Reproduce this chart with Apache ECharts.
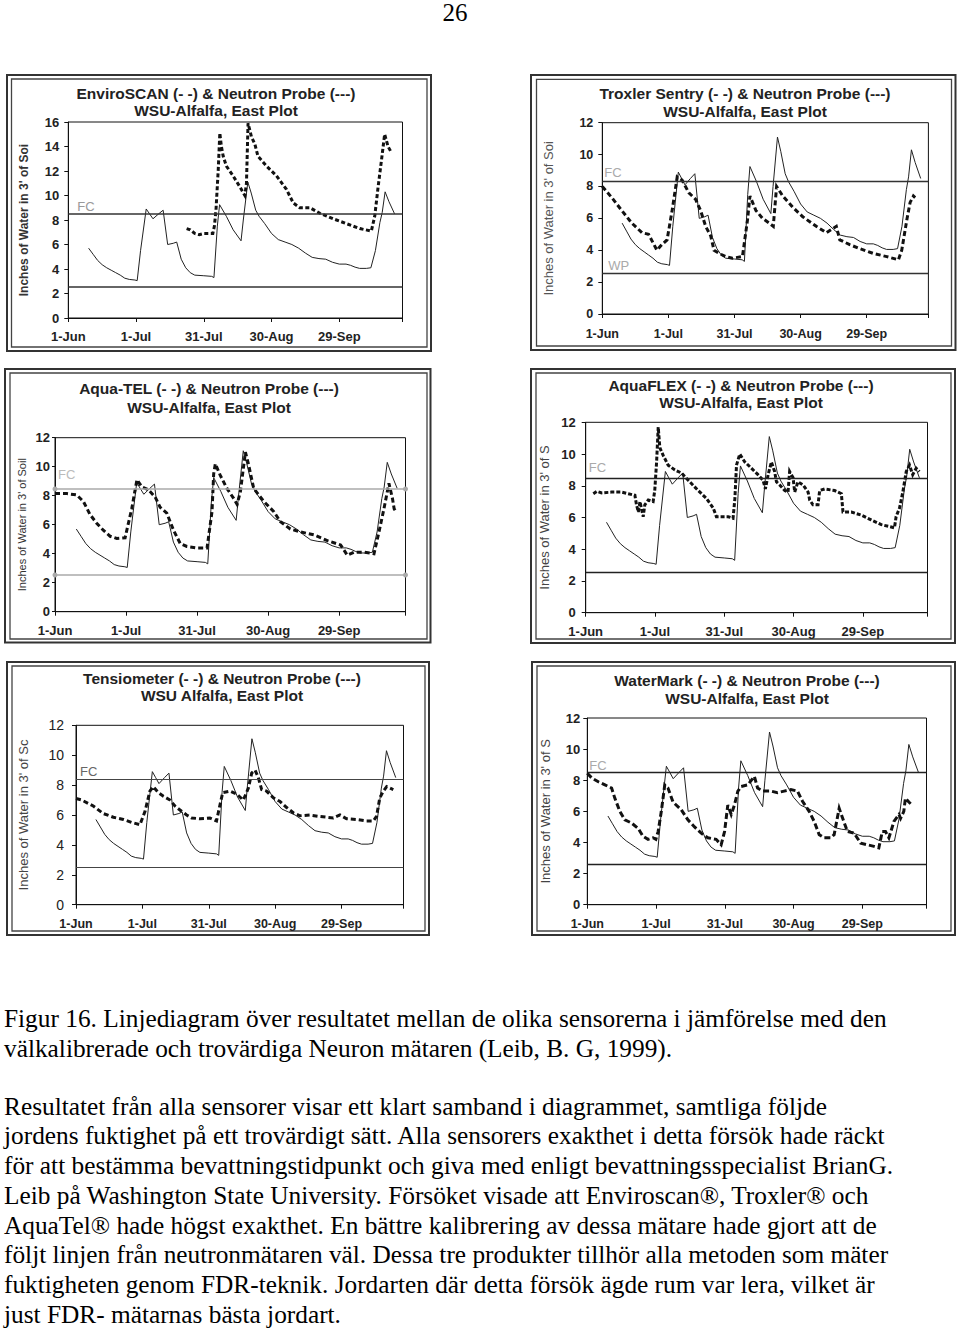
<!DOCTYPE html>
<html><head><meta charset="utf-8">
<script src="https://cdn.jsdelivr.net/npm/echarts@6/dist/echarts.min.js"></script>
<style>
html,body{margin:0;padding:0;background:#fff;}
body{width:960px;height:1330px;position:relative;overflow:hidden;}
#chart{position:absolute;left:0;top:0;width:960px;height:960px;}
.serif{position:absolute;font-family:'Liberation Serif','Times New Roman',serif;color:#000;white-space:nowrap;}
</style></head><body>
<div id="chart"></div>
<div id="pageno" class="serif">26</div>
<div id="caption"></div>
<script>
// ---------- DATA ----------
const tickLabels = ['1-Jun', '1-Jul', '31-Jul', '30-Aug', '29-Sep'];
const XMAX = 148; // days after 1-Jun

const titles = [
  'EnviroSCAN (- -) & Neutron Probe (---)\nWSU-Alfalfa, East Plot',
  'Troxler Sentry (- -) & Neutron Probe (---)\nWSU-Alfalfa, East Plot',
  'Aqua-TEL (- -) & Neutron Probe (---)\nWSU-Alfalfa, East Plot',
  'AquaFLEX (- -) & Neutron Probe (---)\nWSU-Alfalfa, East Plot',
  'Tensiometer (- -) & Neutron Probe (---)\nWSU Alfalfa, East Plot',
  'WaterMark (- -) & Neutron Probe (---)\nWSU-Alfalfa, East Plot'
];
const yNames = [
  "Inches of Water in 3' of Soi",
  "Inches of Water in 3' of Soi",
  "Inches of Water in 3' of Soil",
  "Inches of Water in 3' of S",
  "Inches of Water in 3' of Sc",
  "Inches of Water in 3' of S"
];
const yMaxes = [16, 12, 12, 12, 12, 12];
const fcLevels = [8.5, 8.35, 8.46, 8.47, 8.37, 8.52];
const lowLevels = [2.54, 2.57, 2.53, 2.58, 2.5, 2.57];
const lowLabels = ['', 'WP', '', '', '', ''];

// Neutron probe (solid line), [day after 1-Jun, inches]
const neutron = [
  [9,5.7],[11,5.2],[13,4.7],[15,4.35],[17,4.1],[19,3.9],[21,3.7],[23,3.5],[25,3.25],[27,3.15],[29.5,3.1],[30.5,3.05],
  [32,5.5],[34.5,8.9],[36,8.5],[37.5,8.1],[40,8.5],[42,8.8],[44,6.0],[46.5,6.1],[48,6.2],[50,4.8],[52,4.1],[54,3.7],
  [56,3.5],[60,3.45],[63.5,3.4],[64.5,3.3],[66,7.5],[67,9.25],[70,8.3],[73,7.2],[76.5,6.3],[77.5,8.0],[79.5,11.1],
  [81,10.2],[83,8.8],[84.5,8.3],[87,7.7],[90,6.9],[93,6.4],[96,6.2],[99,6.0],[102,5.7],[105,5.3],[108,4.95],[111,4.85],
  [114,4.8],[117,4.55],[120,4.4],[123,4.4],[125,4.3],[127,4.15],[129,4.05],[132,4.05],[134,4.1],[136,5.5],[138,7.8],
  [139,8.6],[140.3,10.3],[142,9.5],[144.5,8.5]
];

const enviroscan = [
  [52.4,7.3],[54,7.2],[56,6.9],[58,6.8],[60,6.9],[64,6.9],[64.7,7.5],[65.4,8.8],[66.4,12.1],[67.1,15.1],[67.8,14.0],
  [68.6,13.2],[70,12.4],[73,11.6],[76,10.7],[78.2,10.0],[78.9,11.0],[79.6,15.9],[81.1,14.8],[82.6,14.2],[84,13.2],
  [87.8,12.4],[92.2,11.6],[96.6,10.5],[99.6,9.4],[102.5,9.0],[107,9.0],[111.4,8.55],[117.3,8.1],[123.2,7.7],[129.1,7.3],
  [134.2,7.1],[135.7,8.3],[137.2,10.7],[138.7,12.9],[140.1,15.0],[141.6,14.0],[143.1,13.5]
];
const troxler = [
  [0,8.0],[4.3,7.3],[8.8,6.5],[13.4,5.7],[18,5.1],[21,5.0],[24.8,4.0],[27,4.35],[29.4,4.65],[31.7,6.5],[34,8.6],
  [36.2,8.4],[39.3,7.6],[42.3,7.2],[44.6,6.5],[46.9,5.5],[49.2,4.9],[50.7,4.0],[53,3.8],[56,3.6],[59.1,3.5],[63.6,3.6],
  [65.9,5.9],[67,7.4],[69.7,6.5],[72.7,6.0],[75.8,5.7],[77.6,5.5],[79.1,8.0],[81.9,7.4],[86.4,6.7],[91,6.1],[97.1,5.5],
  [101.7,5.1],[106.2,5.5],[107.8,4.65],[112.3,4.35],[116.9,4.1],[123,3.8],[129.1,3.6],[134.4,3.4],[135.9,4.0],[138.2,5.9],
  [139.7,7.0],[141.2,7.4],[142,7.3]
];
const aquatel = [
  [0,8.15],[4.9,8.15],[9.2,8.05],[12.0,7.6],[14.8,6.7],[17.6,6.1],[20.5,5.6],[23.3,5.2],[26.1,5.05],[29.6,5.1],[32.4,7.1],
  [34.6,9.1],[36.7,8.6],[39.5,8.4],[42.3,7.9],[44.4,7.2],[47.2,6.8],[50.1,5.6],[52.9,4.7],[55.7,4.5],[59.9,4.4],[64.2,4.4],
  [66.3,6.9],[67.0,9.5],[67.7,10.2],[69.8,9.4],[72.6,8.5],[75.5,7.8],[76.9,7.4],[78.3,8.3],[80.4,11.0],[81.8,10.1],
  [83.9,8.5],[88.2,7.6],[92.4,6.9],[95.2,6.2],[99.4,5.7],[103.7,5.5],[109.3,5.3],[115.0,4.9],[120.6,4.6],[123.4,3.9],
  [126.2,4.1],[130.5,4.1],[134.7,4.0],[136.8,5.5],[138.9,7.1],[141.0,8.85],[142.5,7.8],[143.2,7.1],[143.9,6.9]
];
const aquaflex = [
  [3.3,7.5],[4.8,7.65],[6.9,7.55],[11.2,7.6],[15.6,7.6],[18.4,7.5],[21.3,7.4],[22.0,6.8],[22.8,6.35],[23.5,7.0],[24.9,6.05],
  [25.6,6.8],[27.1,7.1],[29.2,7.0],[29.9,7.7],[30.7,9.5],[31.4,11.7],[32.1,10.4],[33.6,9.9],[35.7,9.3],[38.6,9.0],[41.5,8.8],
  [44.4,8.35],[48.7,7.7],[52.3,7.2],[55.2,6.6],[56.6,6.05],[58.8,6.05],[61.7,6.05],[63.8,5.95],[64.6,7.2],[65.3,9.3],
  [66.7,10.0],[68.9,9.5],[71.8,9.1],[74.6,8.7],[76.8,8.35],[77.8,7.8],[79.0,8.7],[80.4,9.5],[81.8,8.9],[82.6,8.25],
  [84.0,8.05],[86.2,7.7],[87.6,7.6],[88.3,8.9],[89.8,8.5],[90.5,7.6],[91.9,8.25],[94.1,8.05],[96.3,7.6],[97.0,7.1],
  [98.4,6.8],[100.6,6.8],[101.3,7.7],[103.5,7.8],[107.8,7.7],[110.7,7.5],[111.4,6.35],[115.0,6.35],[119.3,6.15],
  [123.6,5.85],[128.0,5.55],[132.3,5.4],[133.7,5.35],[134.4,6.05],[135.9,6.6],[137.3,7.6],[138.8,8.9],[140.2,9.3],
  [141.6,8.7],[143.1,9.1],[144.5,8.9]
];
const tensiometer = [
  [0,7.1],[2.6,7.0],[7.8,6.6],[12.3,6.1],[16.9,5.85],[21.4,5.7],[25.2,5.5],[28.9,5.35],[31.2,6.25],[33.4,7.6],[34.9,7.9],
  [37.2,7.5],[39.5,7.25],[42.5,7.0],[44.7,6.6],[47.7,6.25],[50,6.0],[52.3,5.8],[56,5.75],[60.5,5.8],[63.5,5.6],[65.1,6.7],
  [66.3,7.5],[69.6,7.6],[72.6,7.4],[75.6,7.0],[77.9,7.8],[79.4,8.8],[80.9,9.0],[82.4,8.5],[83.9,7.7],[86.1,7.6],[89.2,7.15],
  [92.2,6.9],[95.2,6.5],[98.2,6.15],[101.2,5.95],[105.7,6.0],[110.2,5.9],[116.3,5.8],[119.3,6.0],[122.3,5.75],[126.8,5.7],
  [131.3,5.6],[134.3,5.6],[135.8,5.9],[137.3,7.15],[138.9,7.6],[140.4,7.9],[141.9,7.8],[143.4,7.7]
];
const watermark = [
  [0,8.45],[1.9,8.15],[4.8,7.9],[7.7,7.7],[10.6,7.5],[12.0,6.85],[14.2,6.0],[16.4,5.45],[19.3,5.25],[22.2,4.9],[24.3,4.4],
  [26.5,4.2],[28.7,4.3],[29.9,4.2],[30.9,4.7],[32.3,6.0],[33.8,7.7],[35.2,7.5],[37.4,6.6],[41.0,6.1],[43.9,5.45],[46.8,5.0],
  [49.7,4.6],[52.6,4.3],[56.2,4.2],[58.4,3.85],[59.9,4.7],[61.3,6.4],[62.8,5.8],[64.2,6.4],[65.7,7.3],[67.1,7.6],[70,7.7],
  [72.9,8.25],[74.3,7.5],[76.5,7.3],[80.1,7.3],[83.0,7.2],[85.9,7.3],[88.8,7.4],[91.7,7.3],[93.9,6.65],[96.8,6.0],[99,5.35],
  [101.2,4.5],[103.3,4.3],[106.2,4.3],[107.7,4.5],[109.9,6.2],[111.3,5.6],[113.5,4.7],[116.4,4.6],[119.3,3.95],[122.2,3.85],
  [125.1,3.75],[127.2,3.65],[128.7,4.7],[130.1,4.7],[131.6,4.3],[133.8,5.35],[136,5.8],[136.7,5.55],[138.1,6.0],[138.8,6.85],
  [140.3,6.6],[141.7,6.4]
];
const sensors = [enviroscan, troxler, aquatel, aquaflex, tensiometer, watermark];

const captionLines = [
  'Figur 16. Linjediagram över resultatet mellan de olika sensorerna i jämförelse med den',
  'välkalibrerade och trovärdiga Neuron mätaren (Leib, B. G, 1999).',
  'Resultatet från alla sensorer visar ett klart samband i diagrammet, samtliga följde',
  'jordens fuktighet på ett trovärdigt sätt. Alla sensorers exakthet i detta försök hade räckt',
  'för att bestämma bevattningstidpunkt och giva med enligt bevattningsspecialist BrianG.',
  'Leib på Washington State University. Försöket visade att Enviroscan®, Troxler® och',
  'AquaTel® hade högst exakthet. En bättre kalibrering av dessa mätare hade gjort att de',
  'följt linjen från neutronmätaren väl. Dessa tre produkter tillhör alla metoden som mäter',
  'fuktigheten genom FDR-teknik. Jordarten där detta försök ägde rum var lera, vilket är',
  'just FDR- mätarnas bästa jordart.'
];

// ---------- LAYOUT / STYLE ----------
const SANS = '"Liberation Sans", Arial, sans-serif';
const layout = [
  {fo:[7,75,431,351], fi:[11.5,79,427,347], g:[68.3,122,402.5,318], tx:216, ty:93.3, tlh:17.5,
   nameGap:38, nameFont:12, nameWeight:'bold', nameColor:'#333',
   yFont:13, yWeight:'bold', yMargin:9, yTick:4, xFont:13, xMargin:12,
   refColor:'#333', refW:1.6, refSym:false, fcColor:'#999', fcDist:[9,1], lowDist:[6,1], dash:[4,2.5]},
  {fo:[531,75,955.5,350], fi:[536.5,79.3,951.5,346], g:[602.3,122.7,928.4,314], tx:745, ty:93.3, tlh:18,
   nameGap:47, nameFont:13, nameWeight:'normal', nameColor:'#555',
   yFont:12.5, yWeight:'bold', yMargin:9, yTick:4, xFont:12.5, xMargin:13,
   refColor:'#333', refW:1.4, refSym:false, fcColor:'#aaa', fcDist:[2,2], lowDist:[6,1], dash:[5,3]},
  {fo:[5,369,430.5,642.5], fi:[10,373,427,639], g:[55,437.7,405.5,611.7], tx:209, ty:388.3, tlh:19,
   nameGap:28, nameFont:11, nameWeight:'normal', nameColor:'#333',
   yFont:13, yWeight:'bold', yMargin:5, yTick:3, xFont:13, xMargin:12,
   refColor:'#aaa', refW:1.5, refSym:true, fcColor:'#bbb', fcDist:[3,8], lowDist:[3,1], dash:[5,3]},
  {fo:[531,369,955,643], fi:[536,373,951,639], g:[585.7,422.3,927.5,612.7], tx:741, ty:385.7, tlh:16.5,
   nameGap:35, nameFont:13, nameWeight:'normal', nameColor:'#444',
   yFont:13, yWeight:'bold', yMargin:10, yTick:4, xFont:13, xMargin:12,
   refColor:'#222', refW:1.4, refSym:false, fcColor:'#aaa', fcDist:[3,4], lowDist:[3,1], dash:[4,2]},
  {fo:[7,662,429,935], fi:[12,666,425,931], g:[76,725.3,403.5,904.7], tx:222, ty:678.7, tlh:16.5,
   nameGap:46, nameFont:13, nameWeight:'normal', nameColor:'#444',
   yFont:14, yWeight:'normal', yMargin:12, yTick:4, xFont:12.5, xMargin:13,
   refColor:'#444', refW:1.2, refSym:false, fcColor:'#666', fcDist:[4,2], lowDist:[3,1], dash:[5,3]},
  {fo:[532,662,955,935], fi:[537,666,951,931], g:[587.3,718,926.5,904.7], tx:747, ty:680, tlh:18,
   nameGap:35, nameFont:13, nameWeight:'normal', nameColor:'#444',
   yFont:13, yWeight:'bold', yMargin:7, yTick:4, xFont:12.5, xMargin:13,
   refColor:'#222', refW:1.4, refSym:false, fcColor:'#aaa', fcDist:[2,0], lowDist:[3,1], dash:[6,3]}
];

// ---------- BUILD ----------
const chart = echarts.init(document.getElementById('chart'), null, {renderer: 'svg'});
const grid = [], xAxis = [], yAxis = [], series = [], title = [], graphic = [];

layout.forEach((L, i) => {
  graphic.push({type:'rect', silent:true, z:-1,
    shape:{x:L.fo[0], y:L.fo[1], width:L.fo[2]-L.fo[0], height:L.fo[3]-L.fo[1]},
    style:{fill:'none', stroke:'#333', lineWidth:2}});
  graphic.push({type:'rect', silent:true, z:-1,
    shape:{x:L.fi[0], y:L.fi[1], width:L.fi[2]-L.fi[0], height:L.fi[3]-L.fi[1]},
    style:{fill:'none', stroke:'#444', lineWidth:1.3}});

  title.push({text:titles[i], left:L.tx, top:L.ty - L.tlh/2, textAlign:'center', padding:0,
    textStyle:{fontFamily:SANS, fontSize:15.5, fontWeight:'bold', color:'#222', lineHeight:L.tlh}});

  grid.push({left:L.g[0], top:L.g[1], width:L.g[2]-L.g[0], height:L.g[3]-L.g[1],
    show:true, borderColor:'#111', borderWidth:1, backgroundColor:'transparent',
    containLabel:false, outerBoundsMode:'none'});

  xAxis.push({type:'value', gridIndex:i, min:0, max:XMAX, interval:30,
    axisLine:{show:true, onZero:false, lineStyle:{color:'#111', width:1}},
    axisTick:{show:true, length:4, lineStyle:{color:'#111'}},
    splitLine:{show:false},
    axisLabel:{margin:L.xMargin, fontFamily:SANS, fontSize:L.xFont, fontWeight:'bold', color:'#222',
      showMaxLabel:true, showMinLabel:true,
      formatter: v => (v % 30 === 0 && tickLabels[v/30] !== undefined) ? tickLabels[v/30] : ''}});

  yAxis.push({type:'value', gridIndex:i, min:0, max:yMaxes[i], interval:2,
    name:yNames[i], nameLocation:'middle', nameGap:L.nameGap, nameRotate:90,
    nameTextStyle:{fontFamily:SANS, fontSize:L.nameFont, fontWeight:L.nameWeight, color:L.nameColor},
    axisLine:{show:true, onZero:false, lineStyle:{color:'#111', width:1}},
    axisTick:{show:true, length:L.yTick, lineStyle:{color:'#111'}},
    splitLine:{show:false},
    axisLabel:{margin:L.yMargin, fontFamily:SANS, fontSize:L.yFont, fontWeight:L.yWeight, color:'#222'}});

  series.push({type:'line', name:'Neutron Probe', xAxisIndex:i, yAxisIndex:i, data:neutron,
    symbol:'none', showSymbol:false, silent:true, z:3,
    lineStyle:{color:'#222', width:1},
    markLine:{silent:true, animation:false,
      symbol: L.refSym ? ['circle','circle'] : ['none','none'], symbolSize:5,
      itemStyle:{color:L.refColor},
      lineStyle:{color:L.refColor, width:L.refW, type:'solid'},
      emphasis:{disabled:true},
      data:[
        {name:'FC', yAxis:fcLevels[i],
         label:{show:true, position:'insideStartTop', formatter:'FC', distance:L.fcDist,
                color:L.fcColor, fontFamily:SANS, fontSize:13}},
        {name:lowLabels[i], yAxis:lowLevels[i],
         label:{show:lowLabels[i] !== '', position:'insideStartTop', formatter:lowLabels[i] || ' ', distance:L.lowDist,
                color:L.fcColor, fontFamily:SANS, fontSize:13}}
      ]}});

  series.push({type:'line', name:'Sensor', xAxisIndex:i, yAxisIndex:i, data:sensors[i],
    symbol:'none', showSymbol:false, silent:true, z:4,
    lineStyle:{color:'#111', width:3, type:L.dash, cap:'butt', join:'miter'}});
});

chart.setOption({animation:false, backgroundColor:'transparent', title, grid, xAxis, yAxis, series, graphic});

// ---------- Page number & caption (HTML text) ----------
const pg = document.getElementById('pageno');
pg.style.fontSize = '25px';
pg.style.lineHeight = '25px';
pg.style.left = '405px';
pg.style.width = '100px';
pg.style.textAlign = 'center';
pg.style.top = (21 - 0.8375*25) + 'px';

const baselines = [1027.5, 1057, 1115, 1144.7, 1174.4, 1204.1, 1233.9, 1263.6, 1293.3, 1323];
const ctx = document.createElement('canvas').getContext('2d');
ctx.font = '20px "Liberation Serif"';
const w20 = ctx.measureText(captionLines[0]).width;
const fs = 20 * 883 / w20;
const cap = document.getElementById('caption');
captionLines.forEach((t, k) => {
  const d = document.createElement('div');
  d.className = 'serif';
  d.textContent = t;
  d.style.fontSize = fs + 'px';
  d.style.lineHeight = fs + 'px';
  d.style.left = '4px';
  d.style.top = (baselines[k] - 0.8375*fs) + 'px';
  cap.appendChild(d);
});
</script>
</body></html>
